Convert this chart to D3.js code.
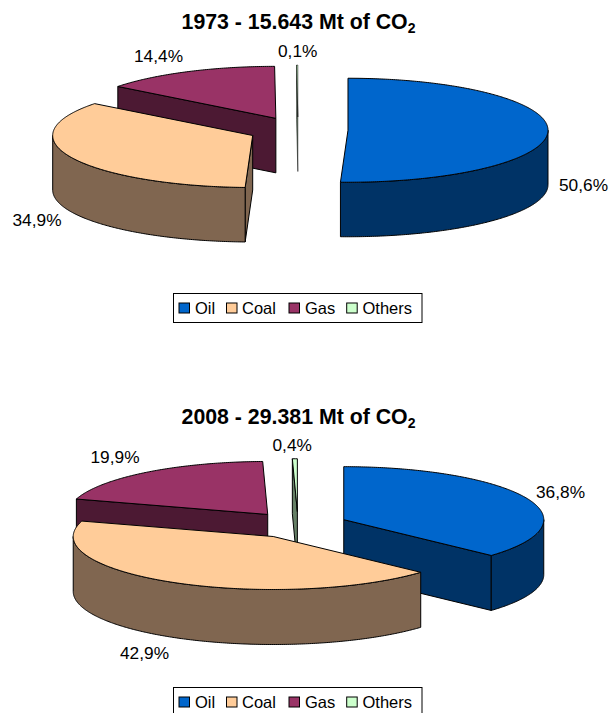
<!DOCTYPE html>
<html>
<head>
<meta charset="utf-8">
<script src="https://cdn.jsdelivr.net/npm/d3@7/dist/d3.min.js"></script>
<style>
  html, body { margin: 0; padding: 0; background: #fff; overflow: hidden; }
  svg { display: block; }
  text { font-family: "Liberation Sans", Arial, sans-serif; fill: #000; }
</style>
</head>
<body>
<svg id="chart" width="609" height="713"></svg>
<script>
// CO2 emissions by fuel, share of the world total
const categories = ["Oil", "Coal", "Gas", "Others"];
const shares1973 = [50.6, 34.9, 14.4, 0.1];
const shares2008 = [36.8, 42.9, 19.9, 0.4];
const titleYears = ["1973 - 15.643 Mt of CO", "2008 - 29.381 Mt of CO"];

const topColors = ["#0066cc", "#ffcc99", "#993366", "#ccffcc"];
const sideColors = ["#003366", "#806650", "#4c1933", "#668066"];

// Geometry of each exploded pie and where its text goes
const panels = [
  {
    shares: shares1973, title: titleYears[0], titleX: 298.5, titleY: 29,
    cx: 298, cy: 130, rx: 200, ry: 52, depth: 54.5, explode: 50,
    labels: [[559, 191], [12.5, 225.5], [134, 62], [278, 56.5]],
    legendY: 293
  },
  {
    shares: shares2008, title: titleYears[1], titleX: 298.5, titleY: 424,
    cx: 298, cy: 525, rx: 200, ry: 53, depth: 55, explode: 50,
    labels: [[536, 497.5], [120, 659], [90.5, 463], [272.5, 450.5]],
    legendY: 687
  }
];

const legendLayout = { x: 173, width: 248.5, height: 29,
  swatchX: [179, 226.5, 289, 346.7], textX: [195, 242, 305, 362.5] };

const svg = d3.select("#chart");
const pie = d3.pie().sort(null).value(d => d);
const pathLine = d3.line();
const percent = d3.format(".1f");

panels.forEach(p => {
  const g = svg.append("g");

  const x = d3.scaleLinear().domain([-1, 1]).range([-p.rx, p.rx]);
  const y = d3.scaleLinear().domain([-1, 1]).range([-p.ry, p.ry]);

  const slices = pie(p.shares).map((s, i) => {
    const mid = (s.startAngle + s.endAngle) / 2;
    return {
      i, start: s.startAngle, end: s.endAngle, mid,
      ox: p.cx + x(Math.sin(mid) * p.explode / p.rx),
      oy: p.cy + y(-Math.cos(mid) * p.explode / p.rx)
    };
  });

  // Rim point of a slice at a given clockwise-from-top angle
  const rim = (s, a, drop = 0) => [s.ox + x(Math.sin(a)), s.oy + y(-Math.cos(a)) + drop];
  const arcPoints = (s, a0, a1, drop = 0) => {
    const n = Math.max(2, Math.ceil(Math.abs(a1 - a0) / 0.01));
    return d3.range(n + 1).map(k => rim(s, a0 + (a1 - a0) * k / n, drop));
  };

  // Back slices first so the nearer ones cover them
  slices.slice().sort((a, b) => a.oy - b.oy).forEach(s => {
    // Hairline slices would otherwise fill up with their own outline
    const hairline = (s.end - s.start) * p.rx < 2;
    const piece = g.append("g")
      .attr("stroke", "#000").attr("stroke-width", hairline ? 0.5 : 1)
      .attr("stroke-linejoin", "round");

    // Radial cut faces, only those turned towards the viewer
    const cuts = [];
    if (Math.sin(s.start) < 0) cuts.push(s.start);
    if (Math.sin(s.end) > 0) cuts.push(s.end);
    cuts.forEach(a => {
      const edge = rim(s, a);
      const face = [[s.ox, s.oy], edge, [edge[0], edge[1] + p.depth], [s.ox, s.oy + p.depth]];
      piece.append("path").attr("d", pathLine(face) + "Z").attr("fill", sideColors[s.i]);
    });

    // Outer wall on the part of the rim that faces the viewer
    const w0 = Math.max(s.start, Math.PI / 2);
    const w1 = Math.min(s.end, Math.PI * 1.5);
    if (w1 > w0) {
      const wall = arcPoints(s, w0, w1).concat(arcPoints(s, w1, w0, p.depth));
      piece.append("path").attr("d", pathLine(wall) + "Z").attr("fill", sideColors[s.i]);
    }

    // Top surface
    const top = [[s.ox, s.oy]].concat(arcPoints(s, s.start, s.end));
    piece.append("path").attr("d", pathLine(top) + "Z").attr("fill", topColors[s.i]);
  });

  // Title with subscript
  const title = g.append("text")
    .attr("x", p.titleX).attr("y", p.titleY)
    .attr("text-anchor", "middle")
    .attr("font-size", 21.3).attr("font-weight", "bold");
  title.append("tspan").text(p.title);
  title.append("tspan").attr("dy", 4).attr("font-size", 14).text("2");

  // Percentage labels
  p.shares.forEach((v, i) => {
    g.append("text")
      .attr("x", p.labels[i][0]).attr("y", p.labels[i][1])
      .attr("font-size", 17.3)
      .text(percent(v).replace(".", ",") + "%");
  });

  // Legend
  const legend = g.append("g");
  legend.append("rect")
    .attr("x", legendLayout.x + 0.5).attr("y", p.legendY + 0.5)
    .attr("width", legendLayout.width).attr("height", legendLayout.height)
    .attr("fill", "#fff").attr("stroke", "#000").attr("stroke-width", 1);
  categories.forEach((c, i) => {
    legend.append("rect")
      .attr("x", legendLayout.swatchX[i]).attr("y", p.legendY + 10)
      .attr("width", 10.5).attr("height", 10)
      .attr("fill", topColors[i]).attr("stroke", "#000").attr("stroke-width", 1);
    legend.append("text")
      .attr("x", legendLayout.textX[i]).attr("y", p.legendY + 21)
      .attr("font-size", 16.5).text(c);
  });
});
</script>
</body>
</html>
